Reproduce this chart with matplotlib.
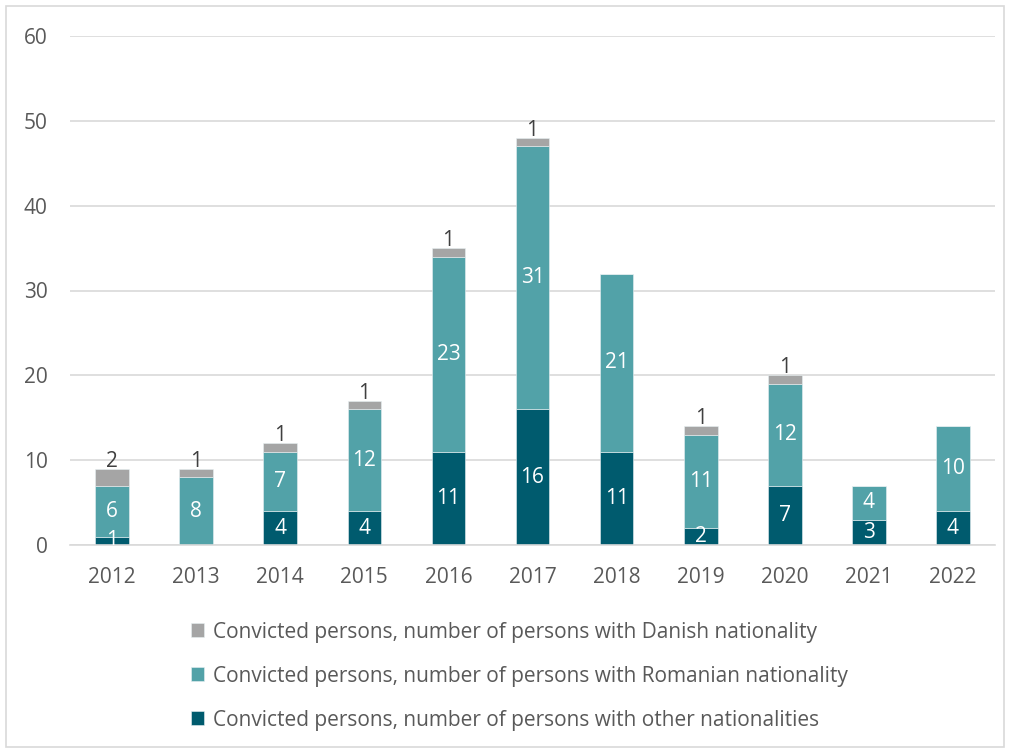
import numpy as np
import matplotlib.pyplot as plt
from matplotlib.patches import Rectangle

plt.rcParams['font.family'] = ['Open Sans', 'DejaVu Sans']

years = ["2012", "2013", "2014", "2015", "2016", "2017", "2018", "2019", "2020", "2021", "2022"]
other = [1, 0, 4, 4, 11, 16, 11, 2, 7, 3, 4]
romanian = [6, 8, 7, 12, 23, 31, 21, 11, 12, 4, 10]
danish = [2, 1, 1, 1, 1, 1, 0, 1, 1, 0, 0]

labels = [
    "Convicted persons, number of persons with Danish nationality",
    "Convicted persons, number of persons with Romanian nationality",
    "Convicted persons, number of persons with other nationalities",
]
c_dan = "#A5A5A5"
c_rom = "#52A2A8"
c_oth = "#005B6E"
txt = "#595959"

fig = plt.figure(figsize=(10.1, 7.51), dpi=100)
ax = fig.add_axes([70 / 1010, 1 - 545 / 751, 925 / 1010, 509 / 751])

x = np.arange(len(years))
other = np.array(other)
romanian = np.array(romanian)
danish = np.array(danish)
w = 0.4

b1 = ax.bar(x, other, w, color=c_oth, label=labels[2], edgecolor="#E8F0F2", linewidth=0.4)
b2 = ax.bar(x, romanian, w, bottom=other, color=c_rom, label=labels[1],
            edgecolor="#E8F0F2", linewidth=0.4)
b3 = ax.bar(x, danish, w, bottom=other + romanian, color=c_dan, label=labels[0],
            edgecolor="#E8F0F2", linewidth=0.4)

fs = 15
for i in range(len(x)):
    if other[i] > 0:
        ax.text(x[i], other[i] / 2, str(other[i]), ha="center", va="center",
                color="white", fontsize=fs, clip_on=True)
    if romanian[i] > 0:
        ax.text(x[i], other[i] + romanian[i] / 2, str(romanian[i]), ha="center",
                va="center", color="white", fontsize=fs)
    if danish[i] > 0:
        top = other[i] + romanian[i] + danish[i]
        ax.text(x[i], top - 0.35, str(danish[i]), ha="center", va="bottom",
                color="#404040", fontsize=fs)

ax.set_xlim(-0.5, len(x) - 0.5)
ax.set_ylim(0, 60)
ax.set_yticks(range(0, 61, 10))
ax.set_xticks(x)
ax.set_xticklabels(years)
ax.yaxis.grid(True, color="#D9D9D9", linewidth=1.2)
ax.set_axisbelow(True)
for s in ["top", "right", "left"]:
    ax.spines[s].set_visible(False)
ax.spines["bottom"].set_color("#D9D9D9")
ax.spines["bottom"].set_linewidth(1.2)
ax.tick_params(axis="both", length=0, labelsize=fs, colors=txt)
ax.tick_params(axis="x", pad=16)
ax.tick_params(axis="y", pad=16)

handles = [b3, b2, b1]
fig.legend(handles, labels, loc="upper left", bbox_to_anchor=(172 / 1010, 1 - 603 / 751),
           frameon=False, fontsize=fs, labelcolor=txt, handlelength=0.65,
           handleheight=0.65, handletextpad=0.4, labelspacing=1.1)

fig.add_artist(Rectangle((6 / 1010, 4 / 751), 998 / 1010, 741 / 751, transform=fig.transFigure,
                         fill=False, edgecolor="#D9D9D9", linewidth=1.2))

fig.savefig("out.png", dpi=100)
